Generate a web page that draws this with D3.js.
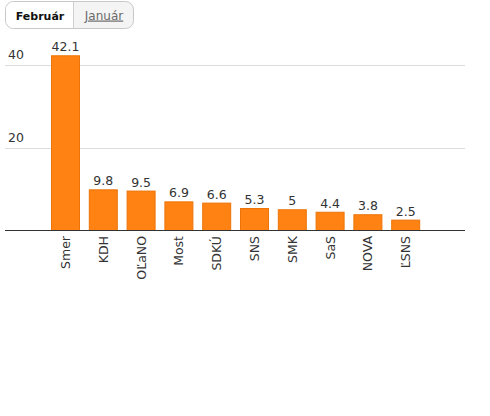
<!DOCTYPE html>
<html>
<head>
<meta charset="utf-8">
<script src="https://cdn.jsdelivr.net/npm/d3@7"></script>
<style>
  body { margin: 0; background: #fff; font-family: "DejaVu Sans", sans-serif; }
  svg text { font-family: "DejaVu Sans", sans-serif; }
</style>
</head>
<body>
<script>
var parties = ['Smer', 'KDH', 'OĽaNO', 'Most', 'SDKÚ', 'SNS', 'SMK', 'SaS', 'NOVA', 'ĽSNS'];
var values = [42.1, 9.8, 9.5, 6.9, 6.6, 5.3, 5, 4.4, 3.8, 2.5];
var yTicks = [20, 40];
var months = ['Február', 'Január'];

var svg = d3.select('body').append('svg').attr('width', 490).attr('height', 416);

// month switch
var btn = svg.append('g').attr('transform', 'translate(5.5,1.5)');
btn.append('rect').attr('width', 128).attr('height', 27).attr('rx', 8)
  .attr('fill', '#f4f4f4').attr('stroke', '#c8c8c8');
btn.append('path').attr('d', 'M68,0.5 H8 A7.5,7.5 0 0 0 0.5,8 V19 A7.5,7.5 0 0 0 8,26.5 H68 Z')
  .attr('fill', '#fff');
btn.append('line').attr('x1', 68).attr('x2', 68).attr('y1', 0).attr('y2', 27).attr('stroke', '#d0d0d0');
btn.append('text').attr('x', 34.5).attr('y', 18).attr('text-anchor', 'middle')
  .attr('font-size', 11).attr('font-weight', 'bold').attr('fill', '#111').text(months[0]);
btn.append('text').attr('x', 98.5).attr('y', 18).attr('text-anchor', 'middle')
  .attr('font-size', 12).attr('fill', '#6a6a6a').attr('text-decoration', 'underline').text(months[1]);

var x = d3.scaleBand().domain(parties).range([46.6, 424.6]).paddingInner(0.233).paddingOuter(0.1165);
var y = d3.scaleLinear().domain([0, 40]).range([230.5, 64.5]);

// grid
var grid = svg.append('g');
grid.selectAll('line').data(yTicks).enter().append('line')
  .attr('x1', 5).attr('x2', 465)
  .attr('y1', function (d) { return Math.round(y(d)) + 0.5; })
  .attr('y2', function (d) { return Math.round(y(d)) + 0.5; })
  .attr('stroke', '#dcdcdc');
grid.selectAll('text').data(yTicks).enter().append('text')
  .attr('x', 8).attr('y', function (d) { return y(d) - 6; })
  .attr('font-size', 12.5).attr('fill', '#333').text(function (d) { return d; });

// bars
svg.append('g').selectAll('rect').data(values).enter().append('rect')
  .attr('x', function (d, i) { return x(parties[i]) + 0.5; })
  .attr('y', function (d) { return y(d); })
  .attr('width', x.bandwidth() - 1)
  .attr('height', function (d) { return y(0) - y(d); })
  .attr('fill', '#ff8213')
  .attr('stroke', '#ec7408');

svg.append('g').selectAll('text').data(values).enter().append('text')
  .attr('x', function (d, i) { return x(parties[i]) + x.bandwidth() / 2; })
  .attr('y', function (d) { return y(d) - 4.5; })
  .attr('text-anchor', 'middle').attr('font-size', 12.5).attr('fill', '#333')
  .text(function (d) { return d; });

// baseline
svg.append('line').attr('x1', 5).attr('x2', 465).attr('y1', 230.5).attr('y2', 230.5)
  .attr('stroke', '#333').attr('stroke-width', 1.2);

// category labels
svg.append('g').selectAll('text').data(parties).enter().append('text')
  .attr('transform', function (d) { return 'translate(' + (x(d) + x.bandwidth() / 2 + 4.5) + ',236) rotate(-90)'; })
  .attr('text-anchor', 'end').attr('font-size', 12.5).attr('fill', '#333')
  .text(function (d) { return d; });
</script>
</body>
</html>
